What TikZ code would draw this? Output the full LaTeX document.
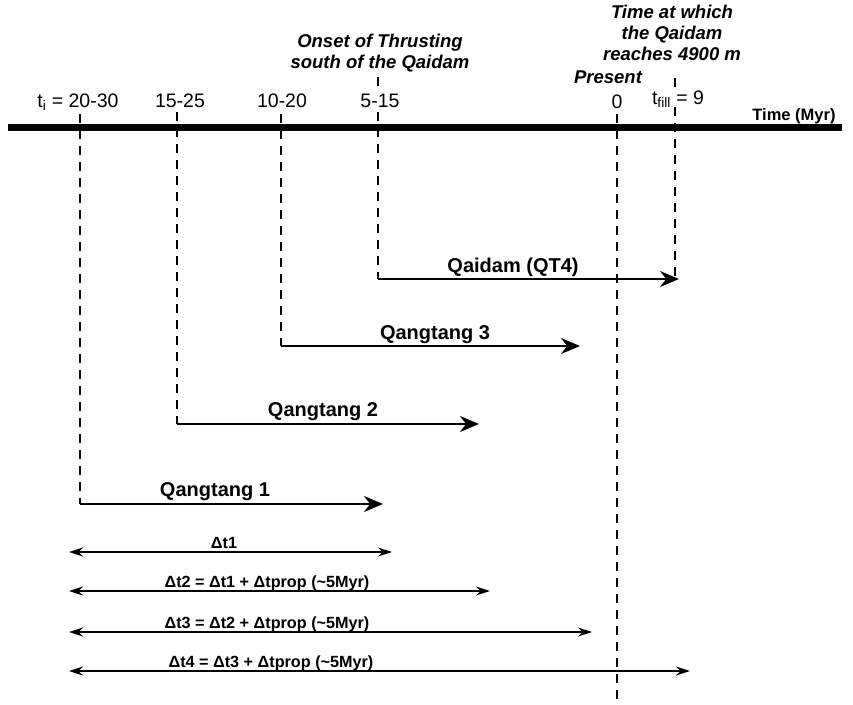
\documentclass[tikz,border=0pt]{standalone}
\usepackage{fontspec}
\setmainfont{Liberation Sans}
\usetikzlibrary{arrows.meta,positioning}

\tikzset{
  tick/.style={font=\fontsize{19.5}{21}\selectfont,anchor=base},
  note/.style={font=\fontsize{18.5}{21}\selectfont\bfseries\itshape,align=center,inner sep=1pt},
  lbl/.style={font=\fontsize{20}{22}\selectfont\bfseries,inner sep=0pt,anchor=base},
  dlbl/.style={font=\fontsize{16.2}{18}\selectfont\bfseries,inner sep=0pt,anchor=base},
  guide/.style={line width=1.4pt,dash pattern=on 9pt off 7pt},
  runarr/.style={-{Stealth[length=19pt,width=16pt]},line width=1.8pt},
  spanarr/.style={{Stealth[length=14pt,width=9pt]}-{Stealth[length=14pt,width=9pt]},line width=1.4pt}
}

\begin{document}
\begin{tikzpicture}[x=1pt,y=-1pt]
\useasboundingbox (0,0) rectangle (853,704);
% time axis
\coordinate (ax0) at (8,127);
\coordinate (ax1) at (842,127);
\draw[line width=7pt] (ax0) -- (ax1);
\node[lbl,font=\fontsize{16.5}{18}\selectfont\bfseries] (axlbl) at (794,120) {Time (Myr)};
% ages
\node[tick] (ti) at (78,107) {t\textsubscript{i} = 20-30};
\node[tick] (t2) at (180,107) {15-25};
\node[tick] (t3) at (282,107) {10-20};
\node[tick] (t4) at (380,107) {5-15};
\node[tick] (t0) at (617,108) {0};
\node[tick] (tf) at (678,104) {t\textsubscript{fill} = 9};
\node[note] (present) at (608,77) {Present};
\node[note] (onset) at (380,53) {Onset of Thrusting\\south of the Qaidam};
\node[note] (reach) at (672,33) {Time at which\\the Qaidam\\reaches 4900 m};
% runs
\coordinate (q1s) at (80,504);  \coordinate (q1e) at (383,504);
\coordinate (q2s) at (177,424); \coordinate (q2e) at (479,424);
\coordinate (q3s) at (281,346); \coordinate (q3e) at (580,346);
\coordinate (q4s) at (378,279); \coordinate (q4e) at (679,279);
\draw[guide] (80,114) -- (q1s);
\draw[guide] (177,112) -- (q2s);
\draw[guide] (281,114) -- (q3s);
\draw[guide] (378,77) -- (378,87);
\draw[guide] (378,112) -- (q4s);
\draw[guide] (617,114) -- (617,700);
\draw[guide] (675,78) -- (675,88);
\draw[guide] (675,107) -- (675,280);
\draw[runarr] (q1s) -- (q1e);
\draw[runarr] (q2s) -- (q2e);
\draw[runarr] (q3s) -- (q3e);
\draw[runarr] (q4s) -- (q4e);
\node[lbl] (q1) at (215,496) {Qangtang 1};
\node[lbl] (q2) at (323,416) {Qangtang 2};
\node[lbl] (q3) at (435,339) {Qangtang 3};
\node[lbl] (q4) at (513,272) {Qaidam (QT4)};
% durations
\coordinate (d1s) at (69,552); \coordinate (d1e) at (392,552);
\coordinate (d2s) at (69,591); \coordinate (d2e) at (490,591);
\coordinate (d3s) at (69,632); \coordinate (d3e) at (592,632);
\coordinate (d4s) at (69,671); \coordinate (d4e) at (690,671);
\draw[spanarr] (d1s) -- (d1e);
\draw[spanarr] (d2s) -- (d2e);
\draw[spanarr] (d3s) -- (d3e);
\draw[spanarr] (d4s) -- (d4e);
\node[dlbl] (d1) at (224,548) {Δt1};
\node[dlbl] (d2) at (267,587) {Δt2 = Δt1 + Δtprop (\textasciitilde5Myr)};
\node[dlbl] (d3) at (267,628) {Δt3 = Δt2 + Δtprop (\textasciitilde5Myr)};
\node[dlbl] (d4) at (271,667) {Δt4 = Δt3 + Δtprop (\textasciitilde5Myr)};
\end{tikzpicture}
\end{document}
